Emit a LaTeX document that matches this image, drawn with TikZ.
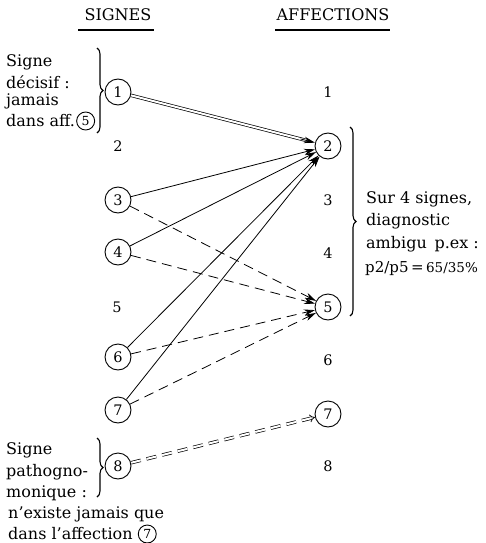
\documentclass[tikz,border=0pt]{standalone}
\usepackage{fontspec}
\setmainfont{DejaVu Serif}
\usetikzlibrary{arrows.meta,decorations.pathreplacing}
\begin{document}
\begin{tikzpicture}[x=1pt,y=-1pt,
  every node/.style={font=\fontsize{16}{19}\selectfont},
  circ/.style={draw,circle,line width=0.9pt,minimum size=26pt,inner sep=0pt,font=\fontsize{14.5}{16}\selectfont},
  smallcirc/.style={draw,circle,line width=0.9pt,minimum size=18pt,inner sep=0pt,font=\fontsize{12.5}{14}\selectfont},
  lbl/.style={font=\fontsize{14.5}{16}\selectfont},
  txt/.style={anchor=west,inner sep=0pt},
  arr/.style={-{Stealth[length=11pt,width=6.5pt]},line width=0.8pt},
  darr/.style={arr,dash pattern=on 10pt off 6pt},
  dbl/.style={double,double distance=2pt,line width=0.7pt},
  brc/.style={decorate,decoration={brace,amplitude=6pt},line width=1.1pt}]
\useasboundingbox (0,0) rectangle (485,543);
% headers
\node (hs) at (118,15) {SIGNES};
\node (ha) at (333,15) {AFFECTIONS};
\draw[line width=1.1pt] (78,30) -- (154,30);
\draw[line width=1.1pt] (275,30) -- (390,30);
% left column
\node[circ] (s1) at (118,92) {1};
\node[lbl] (s2) at (118,146) {2};
\node[circ] (s3) at (118,200) {3};
\node[circ] (s4) at (118,252) {4};
\node[lbl] (s5) at (117,307) {5};
\node[circ] (s6) at (118,357) {6};
\node[circ] (s7) at (118,410) {7};
\node[circ] (s8) at (118,466) {8};
% right column
\node[lbl] (a1) at (328,92) {1};
\node[circ] (a2) at (328,146) {2};
\node[lbl] (a3) at (328,200) {3};
\node[lbl] (a4) at (328,253) {4};
\node[circ] (a5) at (328,307) {5};
\node[lbl] (a6) at (328,360) {6};
\node[circ] (a7) at (328,414) {7};
\node[lbl] (a8) at (328,466) {8};
% connectors
\draw[dbl,shorten >=8pt] (s1) -- (a2);
\draw[arr,shorten <=175pt] (s1) -- (a2);
\draw[arr] (s3) -- (a2);
\draw[arr] (s4) -- (a2);
\draw[arr] (s6) -- (a2);
\draw[arr] (s7) -- (a2);
\draw[darr] (s3) -- (a5);
\draw[darr] (s4) -- (a5);
\draw[darr] (s6) -- (a5);
\draw[darr] (s7) -- (a5);
\draw[dbl,-{Implies[scale=1.9]},dash pattern=on 10pt off 6pt] (s8) -- (a7);
% top-left annotation
\draw[brc] (97,48) -- (97,133);
\node[txt] (t1) at (6,62) {Signe};
\node[txt] (t2) at (6,82) {décisif :};
\node[txt] (t3) at (6,101) {jamais};
\node[txt] (t4) at (6,121) {dans aff.};
\node[smallcirc,anchor=west] (t5) at ([xshift=1pt]t4.east) {5};
% right annotation
\draw[brc] (350,127) -- (350,316);
\node[txt] (r1) at (366,199) {Sur 4 signes,};
\node[txt] (r2) at (366,221) {diagnostic};
\node[txt] (r3) at (366,244) {ambigu\, p.ex :};
\node[txt,font=\fontsize{15}{17}\selectfont] (r4) at (365,268) {p2/p5\,=\,{\fontsize{13.5}{16}\selectfont 65/35\%}};
% bottom-left annotation
\draw[brc] (97,438) -- (97,497);
\node[txt] (b1) at (6,450) {Signe};
\node[txt] (b2) at (6,472) {pathogno-};
\node[txt] (b3) at (6,493) {monique :};
\node[txt] (b4) at (8,514) {n'existe jamais que};
\node[txt] (b5) at (8,534) {dans l'affection};
\node[smallcirc,anchor=west] (b6) at ([xshift=5pt]b5.east) {7};
\end{tikzpicture}
\end{document}
